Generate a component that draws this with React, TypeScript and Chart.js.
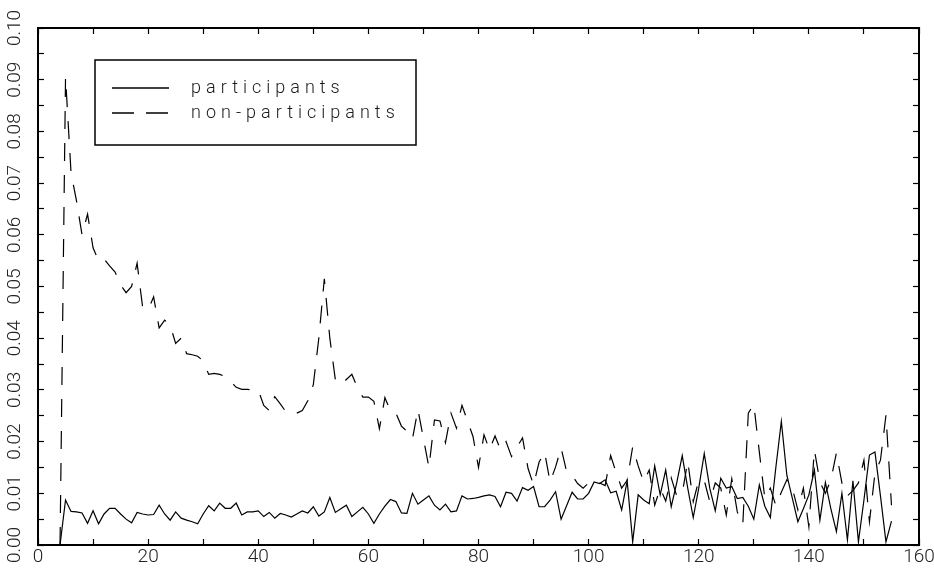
import React, { useEffect, useRef } from 'react';
import { Chart, registerables } from 'chart.js';

Chart.register(...registerables);

// x positions start at 4 and go up by 1
const xStart = 4;

const participants = [
  0.0000, 0.0087, 0.0065, 0.0064, 0.0062, 0.0042, 0.0066, 0.0041, 0.0060, 0.0071,
  0.0071, 0.0060, 0.0050, 0.0043, 0.0063, 0.0060, 0.0058, 0.0059, 0.0077, 0.0060,
  0.0048, 0.0064, 0.0052, 0.0048, 0.0045, 0.0041, 0.0060, 0.0076, 0.0066, 0.0081,
  0.0071, 0.0071, 0.0081, 0.0058, 0.0064, 0.0064, 0.0066, 0.0055, 0.0063, 0.0052,
  0.0061, 0.0058, 0.0054, 0.0060, 0.0066, 0.0062, 0.0074, 0.0056, 0.0064, 0.0092,
  0.0063, 0.0070, 0.0077, 0.0055, 0.0064, 0.0073, 0.0060, 0.0042, 0.0060, 0.0075,
  0.0088, 0.0084, 0.0062, 0.0061, 0.0100, 0.0079, 0.0087, 0.0095, 0.0077, 0.0068,
  0.0079, 0.0064, 0.0066, 0.0095, 0.0089, 0.0090, 0.0092, 0.0095, 0.0097, 0.0094,
  0.0074, 0.0102, 0.0100, 0.0085, 0.0111, 0.0106, 0.0113, 0.0074, 0.0074, 0.0087,
  0.0103, 0.0050, 0.0076, 0.0102, 0.0089, 0.0089, 0.0100, 0.0122, 0.0119, 0.0126,
  0.0101, 0.0104, 0.0068, 0.0124, 0.0006, 0.0097, 0.0087, 0.0080, 0.0153, 0.0097,
  0.0145, 0.0074, 0.0120, 0.0173, 0.0110, 0.0053, 0.0110, 0.0177, 0.0110, 0.0066,
  0.0129, 0.0110, 0.0113, 0.0090, 0.0092, 0.0075, 0.0050, 0.0116, 0.0075, 0.0053,
  0.0150, 0.0239, 0.0135, 0.0090, 0.0045, 0.0070, 0.0097, 0.0145, 0.0048, 0.0121,
  0.0070, 0.0026, 0.0100, 0.0010, 0.0124, 0.0006, 0.0087, 0.0174, 0.0180, 0.0095,
  0.0006, 0.0046,
];

const nonParticipants = [
  0.0000, 0.0905, 0.0720, 0.0665, 0.0600, 0.0640, 0.0575, 0.0550, 0.0553, 0.0540,
  0.0528, 0.0503, 0.0488, 0.0500, 0.0545, 0.0460, 0.0455, 0.0480, 0.0420, 0.0435,
  0.0425, 0.0390, 0.0400, 0.0370, 0.0368, 0.0365, 0.0356, 0.0330, 0.0332, 0.0330,
  0.0326, 0.0316, 0.0305, 0.0301, 0.0301, 0.0300, 0.0300, 0.0270, 0.0260, 0.0287,
  0.0273, 0.0258, 0.0260, 0.0255, 0.0260, 0.0279, 0.0310, 0.0400, 0.0515, 0.0400,
  0.0320, 0.0310, 0.0320, 0.0330, 0.0305, 0.0286, 0.0286, 0.0278, 0.0225, 0.0285,
  0.0260, 0.0255, 0.0230, 0.0220, 0.0205, 0.0262, 0.0206, 0.0150, 0.0242, 0.0240,
  0.0198, 0.0255, 0.0226, 0.0270, 0.0240, 0.0210, 0.0150, 0.0213, 0.0184, 0.0211,
  0.0184, 0.0200, 0.0171, 0.0190, 0.0207, 0.0148, 0.0116, 0.0160, 0.0180, 0.0122,
  0.0151, 0.0188, 0.0142, 0.0135, 0.0119, 0.0110, 0.0120, 0.0125, 0.0120, 0.0115,
  0.0173, 0.0140, 0.0110, 0.0125, 0.0190, 0.0153, 0.0122, 0.0145, 0.0077, 0.0110,
  0.0085, 0.0130, 0.0095, 0.0100, 0.0162, 0.0084, 0.0125, 0.0125, 0.0084, 0.0120,
  0.0110, 0.0058, 0.0128, 0.0064, 0.0040, 0.0255, 0.0272, 0.0180, 0.0090, 0.0110,
  0.0076, 0.0102, 0.0126, 0.0110, 0.0068, 0.0110, 0.0035, 0.0184, 0.0122, 0.0100,
  0.0126, 0.0178, 0.0120, 0.0095, 0.0105, 0.0120, 0.0164, 0.0045, 0.0139, 0.0164,
  0.0251, 0.0077,
];

const seriesLabels = ['participants', 'non-participants'];
const xRange = [0, 160];
const yRange = [0, 0.1];

const tickFont = { family: 'Roboto', size: 19, weight: '300' as const };
const dataDash = [18, 14];
const legendDashes = [[], [22, 12]];

const boxLegend = {
  id: 'boxLegend',
  afterDraw(chart: any) {
    const { ctx, chartArea } = chart;
    const left = chartArea.left + 57;
    const top = chartArea.top + 32;
    ctx.save();
    ctx.strokeStyle = '#000';
    ctx.lineWidth = 1.5;
    ctx.setLineDash([]);
    ctx.strokeRect(left, top, 321, 85);
    chart.data.datasets.forEach((ds: any, i: number) => {
      const y = top + 28 + i * 25;
      ctx.beginPath();
      ctx.setLineDash(legendDashes[i]);
      ctx.lineWidth = 1.3;
      ctx.moveTo(left + 17, y);
      ctx.lineTo(left + 74, y);
      ctx.stroke();
      ctx.setLineDash([]);
      ctx.font = '300 18px Roboto';
      (ctx as any).letterSpacing = '5px';
      ctx.fillStyle = '#1a1a1a';
      ctx.textBaseline = 'middle';
      ctx.textAlign = 'left';
      ctx.fillText(ds.label, left + 96, y);
    });
    ctx.restore();
  },
};

function axisCommon(hasLabels: boolean) {
  return {
    grid: {
      drawOnChartArea: false,
      drawTicks: true,
      tickLength: -6,
      tickColor: '#000',
      tickWidth: 1.2,
    },
    border: { display: true, color: '#000', width: 2 },
    ticks: { display: hasLabels },
  };
}

export default function App() {
  const ref = useRef<HTMLCanvasElement | null>(null);

  useEffect(() => {
    if (!ref.current) return;
    const toPoints = (arr: number[]) => arr.map((v, i) => ({ x: xStart + i, y: v }));
    const xCb = (v: any) => (Number(v) % 20 === 0 ? String(v) : '');
    const yCb = (v: any) => {
      const k = Math.round(Number(v) * 1000);
      return k % 10 === 0 ? (k / 1000).toFixed(2) : '';
    };
    const xBase = axisCommon(true);
    const yBase = axisCommon(true);
    const chart = new Chart(ref.current, {
      type: 'line',
      data: {
        datasets: [
          {
            label: seriesLabels[0],
            data: toPoints(participants),
            borderColor: '#000',
            borderWidth: 1.2,
            pointRadius: 0,
            tension: 0,
            fill: false,
          },
          {
            label: seriesLabels[1],
            data: toPoints(nonParticipants),
            borderColor: '#000',
            borderWidth: 1.2,
            borderDash: dataDash,
            pointRadius: 0,
            tension: 0,
            fill: false,
          },
        ],
      },
      options: {
        animation: false,
        responsive: true,
        maintainAspectRatio: false,
        layout: { padding: 0 },
        plugins: { legend: { display: false }, tooltip: { enabled: false } },
        scales: {
          x: {
            type: 'linear',
            axis: 'x',
            position: 'bottom',
            min: xRange[0],
            max: xRange[1],
            grid: xBase.grid,
            border: xBase.border,
            ticks: {
              stepSize: 10,
              autoSkip: false,
              maxRotation: 0,
              minRotation: 0,
              padding: 7,
              color: '#222',
              font: tickFont,
              callback: xCb,
            },
            afterFit: (s: any) => {
              s.height = 27;
              s.paddingLeft = 0;
              s.paddingRight = 0;
            },
          },
          x2: {
            type: 'linear',
            axis: 'x',
            position: 'top',
            min: xRange[0],
            max: xRange[1],
            grid: xBase.grid,
            border: xBase.border,
            ticks: { display: false, stepSize: 10, autoSkip: false },
            afterFit: (s: any) => {
              s.height = 28;
              s.paddingLeft = 0;
              s.paddingRight = 0;
            },
          },
          y: {
            type: 'linear',
            axis: 'y',
            position: 'left',
            min: yRange[0],
            max: yRange[1],
            grid: yBase.grid,
            border: yBase.border,
            ticks: {
              stepSize: 0.005,
              autoSkip: false,
              minRotation: 90,
              maxRotation: 90,
              crossAlign: 'center',
              padding: 11,
              color: '#222',
              font: tickFont,
              callback: yCb,
            },
            afterFit: (s: any) => {
              s.width = 38;
              s.paddingTop = 0;
              s.paddingBottom = 0;
            },
          },
          y2: {
            type: 'linear',
            axis: 'y',
            position: 'right',
            min: yRange[0],
            max: yRange[1],
            grid: yBase.grid,
            border: yBase.border,
            ticks: { display: false, stepSize: 0.005, autoSkip: false },
            afterFit: (s: any) => {
              s.width = 15;
              s.paddingTop = 0;
              s.paddingBottom = 0;
            },
          },
        },
      } as any,
      plugins: [boxLegend],
    });
    return () => chart.destroy();
  }, []);

  return (
    <div style={{ position: 'absolute', left: 0, top: 0, width: 934, height: 572, background: '#fff' }}>
      <canvas ref={ref} />
    </div>
  );
}
